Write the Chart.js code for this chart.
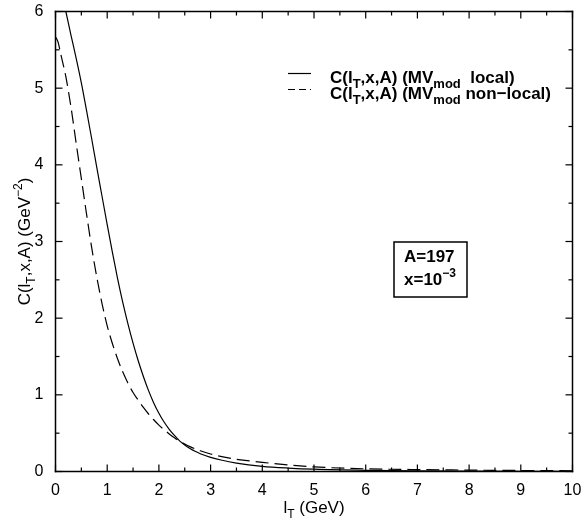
<!DOCTYPE html>
<html>
<head>
<meta charset="utf-8">
<script src="https://cdn.jsdelivr.net/npm/chart.js@4/dist/chart.umd.min.js"></script>
<style>
html,body{margin:0;padding:0;background:#fff;}
canvas{display:block;}
</style>
</head>
<body>
<canvas id="c" width="582" height="519"></canvas>
<script>
// ---- data ----
const lT = [0,0.1,0.2,0.3,0.4,0.5,0.6,0.7,0.8,0.9,1.0,1.1,1.2,1.3,1.4,1.5,1.6,1.7,1.8,1.9,2.0,2.1,2.2,2.3,2.4,2.5,2.6,2.7,2.8,3.0,3.2,3.5,4.0,4.5,5.0,6.0,7.0,8.0,9.0,10.0];
const localC = [6.58,6.31,6.0,5.69,5.39,5.07,4.71,4.34,3.96,3.59,3.22,2.86,2.52,2.21,1.93,1.675,1.445,1.24,1.055,0.895,0.76,0.645,0.55,0.47,0.40,0.345,0.30,0.263,0.232,0.185,0.15,0.11,0.068,0.045,0.03,0.015,0.008,0.005,0.003,0.002];
const lT2 = [0,0.05,0.1,0.2,0.3,0.4,0.5,0.6,0.7,0.8,0.9,1.0,1.1,1.2,1.3,1.4,1.5,1.6,1.7,1.8,1.9,2.0,2.1,2.2,2.3,2.4,2.5,2.6,2.8,3.0,3.5,4.0,4.5,5.0,6.0,7.0,8.0,9.0,10.0];
const nonlocalC = [5.67,5.6,5.45,5.15,4.75,4.28,3.82,3.36,2.92,2.53,2.19,1.90,1.67,1.47,1.30,1.155,1.03,0.93,0.835,0.75,0.675,0.605,0.545,0.49,0.44,0.395,0.358,0.325,0.27,0.228,0.16,0.12,0.085,0.06,0.035,0.025,0.018,0.013,0.01];
const xTicks = [0,1,2,3,4,5,6,7,8,9,10];
const yTicks = [0,1,2,3,4,5,6];
const seriesNames = ["local", "non\u2212local"];
const boxLines = ["A=197", "x=10"];

const FONT = "'Liberation Sans', Arial, Helvetica, sans-serif";

function pts(xs, ys){ return xs.map((x,i)=>({x:x, y:ys[i]})); }

function drawRich(ctx, segs, x, y, size, subSize, bold){
  const w = bold ? 'bold ' : '';
  let cx = x;
  for (const s of segs){
    if (s.k === 'n'){ ctx.font = w + size + 'px ' + FONT; ctx.fillText(s.t, cx, y); }
    else if (s.k === 'sub'){ ctx.font = w + subSize + 'px ' + FONT; ctx.fillText(s.t, cx, y + size*0.28); }
    else { ctx.font = w + subSize + 'px ' + FONT; ctx.fillText(s.t, cx, y - size*0.45); }
    cx += ctx.measureText(s.t).width;
  }
  return cx - x;
}
function richWidth(ctx, segs, size, subSize, bold){
  const w = bold ? 'bold ' : '';
  let tot = 0;
  for (const s of segs){
    ctx.font = w + (s.k==='n'?size:subSize) + 'px ' + FONT;
    tot += ctx.measureText(s.t).width;
  }
  return tot;
}

const decor = {
  id: 'decor',
  afterDraw(chart){
    const ctx = chart.ctx;
    const xs = chart.scales.x, ys = chart.scales.y;
    const L = xs.getPixelForValue(0), R = xs.getPixelForValue(10);
    const T = ys.getPixelForValue(6), B = ys.getPixelForValue(0);
    ctx.save();
    ctx.setLineDash([]);
    ctx.globalAlpha = 1;
    ctx.fillStyle = '#000';
    const fw = 1.5;
    ctx.fillRect(L - fw/2, T - fw/2, R - L + fw, fw);
    ctx.fillRect(L - fw/2, B - fw/2, R - L + fw, fw);
    ctx.fillRect(L - fw/2, T - fw/2, fw, B - T + fw);
    ctx.fillRect(R - fw/2, T - fw/2, fw, B - T + fw);
    const tw = 1.2;
    for (let i = 0; i <= 20; i++){
      const px = xs.getPixelForValue(i * 0.5);
      const len = (i % 2 === 0) ? 7 : 4;
      ctx.fillRect(px - tw/2, B - len, tw, len);
      ctx.fillRect(px - tw/2, T, tw, len);
    }
    for (let i = 0; i <= 12; i++){
      const py = ys.getPixelForValue(i * 0.5);
      const len = (i % 2 === 0) ? 7 : 4;
      ctx.fillRect(L, py - tw/2, len, tw);
      ctx.fillRect(R - len, py - tw/2, len, tw);
    }

    ctx.textBaseline = 'alphabetic';
    ctx.textAlign = 'left';
    const xt = [{t:'l',k:'n'},{t:'T',k:'sub'},{t:' (GeV)',k:'n'}];
    const xw = richWidth(ctx, xt, 17, 12, false);
    drawRich(ctx, xt, (L + R)/2 - xw/2, 513, 17, 12, false);
    const yt = [{t:'C(l',k:'n'},{t:'T',k:'sub'},{t:',x,A) (GeV',k:'n'},{t:'\u22122',k:'sup'},{t:')',k:'n'}];
    const yw = richWidth(ctx, yt, 17, 12, false);
    ctx.save();
    ctx.translate(30, (T + B)/2);
    ctx.rotate(-Math.PI/2);
    drawRich(ctx, yt, -yw/2, 0, 17, 12, false);
    ctx.restore();

    ctx.strokeStyle = '#000';
    const rows = [
      {dash: [], y: 73.5, segs:[{t:'C(l',k:'n'},{t:'T',k:'sub'},{t:',x,A) (MV',k:'n'},{t:'mod',k:'sub'},{t:'  ' + seriesNames[0] + ')',k:'n'}]},
      {dash: [7,4], y: 89.5, segs:[{t:'C(l',k:'n'},{t:'T',k:'sub'},{t:',x,A) (MV',k:'n'},{t:'mod',k:'sub'},{t:' ' + seriesNames[1] + ')',k:'n'}]}
    ];
    for (const r of rows){
      ctx.lineWidth = 1.2;
      ctx.setLineDash(r.dash);
      ctx.beginPath(); ctx.moveTo(288, r.y); ctx.lineTo(311, r.y); ctx.stroke();
      ctx.setLineDash([]);
      drawRich(ctx, r.segs, 330, r.y + 9.5, 17, 13, true);
    }

    ctx.lineWidth = 1.5;
    ctx.strokeRect(394, 242, 73, 55);
    drawRich(ctx, [{t:boxLines[0],k:'n'}], 404, 262, 17, 12, true);
    drawRich(ctx, [{t:boxLines[1],k:'n'},{t:'\u22123',k:'sup'}], 404, 285, 17, 12, true);
    ctx.restore();
  }
};

function zeroPad(s){ s.paddingLeft = 0; s.paddingRight = 0; s.paddingTop = 0; s.paddingBottom = 0; }

new Chart(document.getElementById('c'), {
  type: 'line',
  data: {
    datasets: [
      { label: 'local', data: pts(lT, localC), borderColor: '#000', borderWidth: 1.2,
        pointRadius: 0, fill: false, cubicInterpolationMode: 'monotone' },
      { label: 'non-local', data: pts(lT2, nonlocalC), borderColor: '#000', borderWidth: 1.2,
        borderDash: [13,6], pointRadius: 0, fill: false, cubicInterpolationMode: 'monotone' }
    ]
  },
  options: {
    responsive: false,
    animation: false,
    devicePixelRatio: 1,
    layout: { padding: { left: 0, top: 11.5, right: 9.5, bottom: 0 } },
    plugins: { legend: { display: false }, tooltip: { enabled: false } },
    scales: {
      x: {
        type: 'linear', min: 0, max: 10,
        afterBuildTicks: s => { s.ticks = xTicks.map(v => ({value: v})); },
        afterFit: s => { s.height = 47.5; zeroPad(s); },
        grid: { display: false, drawTicks: false },
        border: { display: false },
        ticks: { color: '#000', font: { family: FONT, size: 16 }, padding: 9, maxRotation: 0, autoSkip: false }
      },
      y: {
        type: 'linear', min: 0, max: 6,
        afterBuildTicks: s => { s.ticks = yTicks.map(v => ({value: v})); },
        afterFit: s => { s.width = 55.5; zeroPad(s); },
        grid: { display: false, drawTicks: false },
        border: { display: false },
        ticks: { color: '#000', font: { family: FONT, size: 16 }, padding: 12 }
      }
    }
  },
  plugins: [decor]
});
</script>
</body>
</html>
